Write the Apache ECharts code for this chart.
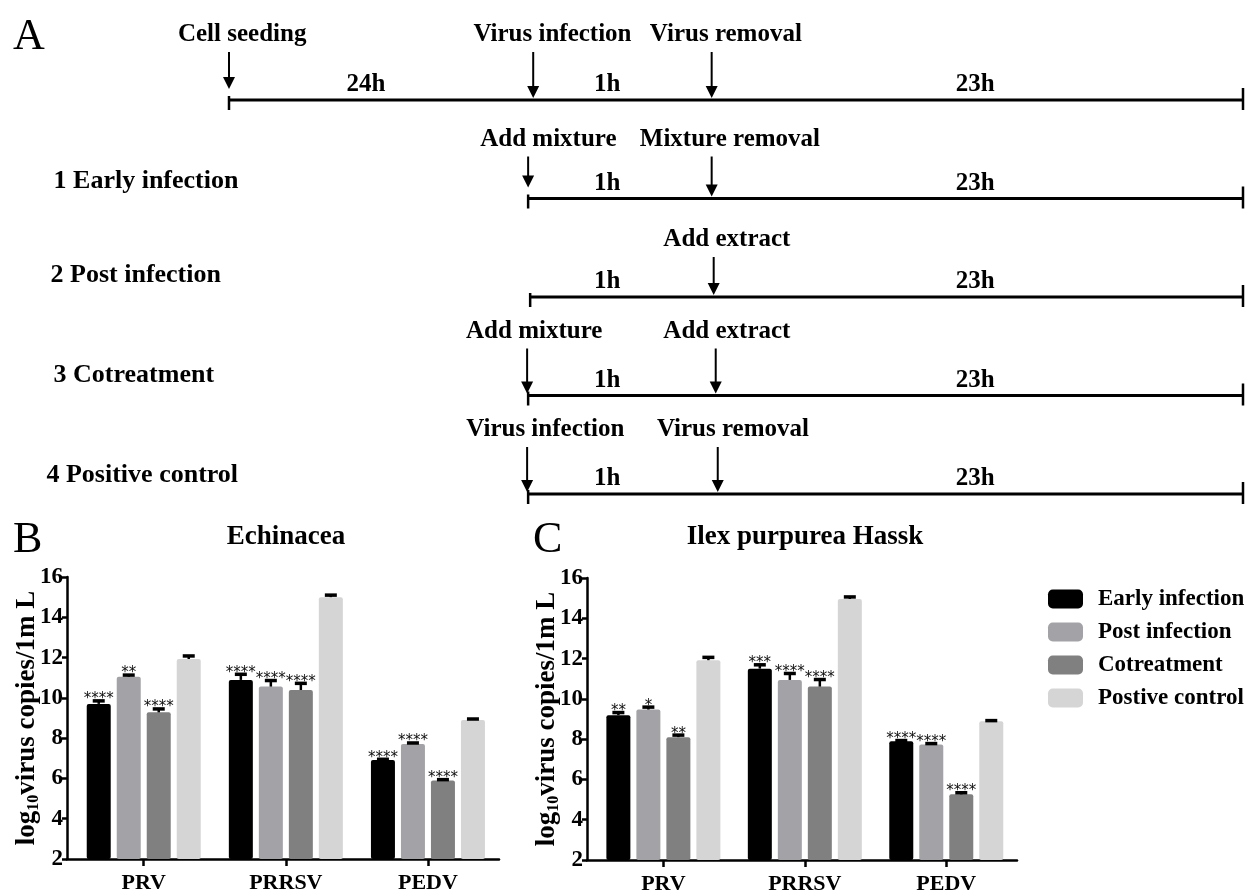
<!DOCTYPE html>
<html><head><meta charset="utf-8">
<script src="https://cdn.jsdelivr.net/npm/echarts@6/dist/echarts.min.js"></script>
<style>html,body{margin:0;padding:0;background:#fff}#c{width:1255px;height:891px}</style>
</head><body><div id="c"></div>
<script>
// ---------- DATA ----------
const categories = ['PRV', 'PRRSV', 'PEDV'];
const groupNames = ['Early infection', 'Post infection', 'Cotreatment', 'Postive control'];
const yMin = 2, yMax = 16, yStep = 2;

// Panel B: Echinacea (log10 virus copies/1mL)
const echEarly   = [9.70, 10.89, 6.92];
const echPost    = [11.05, 10.56, 7.71];
const echCot     = [9.28, 10.39, 5.90];
const echControl = [11.93, 15.00, 8.90];
const echEarlyErr   = [0.15, 0.28, 0.03];
const echPostErr    = [0.08, 0.30, 0.05];
const echCotErr     = [0.17, 0.33, 0.04];
const echControlErr = [0.15, 0.10, 0.05];
const echEarlyStars   = ['****', '****', '****'];
const echPostStars    = ['**', '****', '****'];
const echCotStars     = ['****', '****', '****'];
const echControlStars = ['', '', ''];

// Panel C: Ilex purpurea Hassk
const ilexEarly   = [9.19, 11.50, 7.90];
const ilexPost    = [9.47, 10.94, 7.74];
const ilexCot     = [8.10, 10.61, 5.26];
const ilexControl = [11.92, 14.96, 8.89];
const ilexEarlyErr   = [0.13, 0.19, 0.03];
const ilexPostErr    = [0.12, 0.32, 0.04];
const ilexCotErr     = [0.10, 0.35, 0.08];
const ilexControlErr = [0.14, 0.10, 0.03];
const ilexEarlyStars   = ['**', '***', '****'];
const ilexPostStars    = ['*', '****', '****'];
const ilexCotStars     = ['**', '****', '****'];
const ilexControlStars = ['', '', ''];

// Panel A: schematic timeline (schematic units 0..100)
const timelineRowNames = ['', '1 Early infection', '2 Post infection', '3 Cotreatment', '4 Positive control'];
const timelineStart = [0, 29.5, 29.7, 29.5, 29.5];
const timelineEnd   = [100, 100, 100, 100, 100];
const rowLabelPos = [0, -17.3, -17.6, -17.3, -18.0];
// [row, arrow position, label position, label]
const timelineEvents = [
  [0, 0, 1.3, 'Cell seeding'],
  [0, 30, 31.9, 'Virus infection'],
  [0, 47.6, 49.0, 'Virus removal'],
  [1, 29.5, 31.5, 'Add mixture'],
  [1, 47.6, 49.4, 'Mixture removal'],
  [2, 47.8, 49.1, 'Add extract'],
  [3, 29.4, 30.1, 'Add mixture'],
  [3, 48.0, 49.1, 'Add extract'],
  [4, 29.4, 31.2, 'Virus infection'],
  [4, 48.2, 49.7, 'Virus removal']
];
// [row, position, label]
const timelineDurations = [
  [0, 13.5, '24h'], [0, 37.3, '1h'], [0, 73.6, '23h'],
  [1, 37.3, '1h'], [1, 73.6, '23h'],
  [2, 37.3, '1h'], [2, 73.6, '23h'],
  [3, 37.3, '1h'], [3, 73.6, '23h'],
  [4, 37.3, '1h'], [4, 73.6, '23h']
];

// ---------- STYLE ----------
const SERIF = "'Liberation Serif', 'DejaVu Serif', serif";
const colors = ['#000000', '#a3a3a7', '#808080', '#d5d5d5'];
const BAR_W = 24, BAR_GAP = 6;
const rowLabelDy = [0, -17, -22, -20, -19];
const eventLabelDy = [-65, -59, -57, -64, -64];

const chart = echarts.init(document.getElementById('c'), null, {renderer: 'canvas'});

function barAxes(i) {
  const ticks = categories.map((c, k) => k);
  const x = {
    type: 'value', gridIndex: i, min: -0.54, max: 2.5,
    axisLine: {show: true, onZero: false, lineStyle: {color: '#000', width: 2.5}},
    axisTick: {show: true, customValues: ticks, length: 7, lineStyle: {color: '#000', width: 2.5}},
    axisLabel: {customValues: ticks, formatter: v => categories[Math.round(v)], color: '#000',
      fontFamily: SERIF, fontWeight: 'bold', fontSize: 22, margin: 13},
    splitLine: {show: false}
  };
  const y = {
    type: 'value', gridIndex: i, min: yMin, max: yMax, interval: yStep,
    axisLine: {show: true, onZero: false, lineStyle: {color: '#000', width: 2.5}},
    axisTick: {show: true, length: 5, lineStyle: {color: '#000', width: 2.5}},
    axisLabel: {color: '#000', fontFamily: SERIF, fontWeight: 'bold', fontSize: 23, margin: 4},
    splitLine: {show: false},
    name: 'log{sub|10}virus copies/1m L', nameLocation: 'middle', nameRotate: 90, nameGap: 25,
    nameMoveOverlap: false,
    nameTextStyle: {
      color: '#000', fontFamily: SERIF, fontWeight: 'bold', fontSize: 27, lineHeight: 30,
      rich: {sub: {fontFamily: SERIF, fontWeight: 'bold', fontSize: 16, lineHeight: 17, verticalAlign: 'bottom', color: '#000'}}
    }
  };
  return [x, y];
}

function barSeries(i, groups) {
  return groups.map((vals, g) => ({
    type: 'bar', name: groupNames[g], xAxisIndex: i, yAxisIndex: i,
    data: vals.map((v, c) => [c, v]), barWidth: BAR_W, barGap: (BAR_GAP / BAR_W * 100) + '%',
    itemStyle: {color: colors[g], borderRadius: 2},
    emphasis: {disabled: true}, z: 2
  }));
}

function errSeries(i, groups, errs, stars) {
  const data = [], lab = [];
  for (let g = 0; g < groups.length; g++) {
    for (let c = 0; c < categories.length; c++) {
      data.push([c, g, groups[g][c], groups[g][c] + errs[g][c]]);
      lab.push(stars[g][c]);
    }
  }
  return {
    type: 'custom', xAxisIndex: i, yAxisIndex: i, z: 5, silent: true,
    encode: {x: 0, y: [2, 3]}, data,
    renderItem(params, api) {
      const c = api.value(0), g = api.value(1);
      const base = api.coord([c, api.value(2)]);
      const top = api.coord([c, api.value(3)]);
      const x = base[0] + (g - 1.5) * (BAR_W + BAR_GAP);
      return {
        type: 'group', children: [
          {type: 'line', shape: {x1: x, y1: base[1], x2: x, y2: top[1]}, style: {stroke: '#000', lineWidth: 2.5}},
          {type: 'line', shape: {x1: x - 6, y1: top[1], x2: x + 6, y2: top[1]}, style: {stroke: '#000', lineWidth: 3.5}},
          {type: 'text', style: {x: x, y: top[1] + 6, text: lab[params.dataIndex], align: 'center', verticalAlign: 'bottom',
            fontFamily: 'DejaVu Sans', fontSize: 15, fill: '#111'}}
        ]
      };
    }
  };
}

const echGroups = [echEarly, echPost, echCot, echControl];
const echErrs = [echEarlyErr, echPostErr, echCotErr, echControlErr];
const echStars = [echEarlyStars, echPostStars, echCotStars, echControlStars];
const ilexGroups = [ilexEarly, ilexPost, ilexCot, ilexControl];
const ilexErrs = [ilexEarlyErr, ilexPostErr, ilexCotErr, ilexControlErr];
const ilexStars = [ilexEarlyStars, ilexPostStars, ilexCotStars, ilexControlStars];

const axB = barAxes(0), axC = barAxes(1);

// timeline series
const TL_FONT = {fontFamily: SERIF, fontWeight: 'bold', fill: '#000'};
const lineSeries = {
  type: 'custom', xAxisIndex: 2, yAxisIndex: 2, silent: true, clip: false,
  data: timelineRowNames.map((n, r) => [timelineStart[r], r, timelineEnd[r]]),
  renderItem(params, api) {
    const r = api.value(1);
    const p0 = api.coord([api.value(0), r]);
    const p1 = api.coord([api.value(2), r]);
    const lp = api.coord([rowLabelPos[r], r]);
    const ch = [
      {type: 'line', shape: {x1: p0[0], y1: p0[1], x2: p1[0], y2: p1[1]}, style: {stroke: '#000', lineWidth: 3}},
      {type: 'line', shape: {x1: p0[0], y1: p0[1] - 4, x2: p0[0], y2: p0[1] + 10}, style: {stroke: '#000', lineWidth: 2.5}},
      {type: 'line', shape: {x1: p1[0], y1: p1[1] - 12, x2: p1[0], y2: p1[1] + 10}, style: {stroke: '#000', lineWidth: 2.5}}
    ];
    if (timelineRowNames[r]) {
      ch.push({type: 'text', style: Object.assign({x: lp[0], y: lp[1] + rowLabelDy[r], text: timelineRowNames[r], align: 'left', verticalAlign: 'middle', fontSize: 26}, TL_FONT)});
    }
    return {type: 'group', children: ch};
  }
};
const arrowSeries = {
  type: 'custom', xAxisIndex: 2, yAxisIndex: 2, silent: true, clip: false,
  data: timelineEvents.map(e => [e[1], e[0], e[2]]),
  renderItem(params, api) {
    const r = api.value(1), pos = api.value(0);
    const p = api.coord([pos, r]);
    const lp = api.coord([api.value(2), r]);
    const isStart = Math.abs(pos - timelineStart[r]) < 0.01;
    const tipY = p[1] - (isStart ? 11 : 2);
    const x = p[0];
    const ly = p[1] + eventLabelDy[r];
    return {type: 'group', children: [
      {type: 'line', shape: {x1: x, y1: ly + 17, x2: x, y2: tipY - 8}, style: {stroke: '#000', lineWidth: 2}},
      {type: 'polygon', shape: {points: [[x - 6, tipY - 12], [x + 6, tipY - 12], [x, tipY]]}, style: {fill: '#000'}},
      {type: 'text', style: Object.assign({x: lp[0], y: ly, text: timelineEvents[params.dataIndex][3], align: 'center', verticalAlign: 'middle', fontSize: 25}, TL_FONT)}
    ]};
  }
};
const durSeries = {
  type: 'custom', xAxisIndex: 2, yAxisIndex: 2, silent: true, clip: false,
  data: timelineDurations.map(d => [d[1], d[0]]),
  renderItem(params, api) {
    const p = api.coord([api.value(0), api.value(1)]);
    return {type: 'text', style: Object.assign({x: p[0], y: p[1] - 15, text: timelineDurations[params.dataIndex][2], align: 'center', verticalAlign: 'middle', fontSize: 25}, TL_FONT)};
  }
};

const option = {
  backgroundColor: '#fff',
  animation: false,
  textStyle: {fontFamily: SERIF},
  title: [
    {text: 'A', left: 8, top: 10, textStyle: {fontFamily: SERIF, fontWeight: 'normal', fontSize: 44, color: '#000'}},
    {text: 'B', left: 8, top: 513, textStyle: {fontFamily: SERIF, fontWeight: 'normal', fontSize: 44, color: '#000'}},
    {text: 'C', left: 528, top: 513, textStyle: {fontFamily: SERIF, fontWeight: 'normal', fontSize: 44, color: '#000'}},
    {text: 'Echinacea', left: 281, top: 519, textAlign: 'center', textStyle: {fontFamily: SERIF, fontWeight: 'bold', fontSize: 27, color: '#000'}},
    {text: 'Ilex purpurea Hassk', left: 800, top: 519, textAlign: 'center', textStyle: {fontFamily: SERIF, fontWeight: 'bold', fontSize: 27, color: '#000'}}
  ],
  legend: {
    data: groupNames, orient: 'vertical', left: 1043, top: 582,
    itemWidth: 35, itemHeight: 19, itemGap: 9, icon: 'roundRect',
    textStyle: {fontFamily: SERIF, fontWeight: 'bold', fontSize: 23, color: '#000', lineHeight: 24, padding: [0, 0, 0, 10]},
    selectedMode: false
  },
  grid: [
    {left: 67, top: 577, width: 432, height: 282, outerBoundsMode: 'none'},
    {left: 587, top: 578, width: 430, height: 282, outerBoundsMode: 'none'},
    {left: 229, top: 100, width: 1014, height: 394, outerBoundsMode: 'none'}
  ],
  xAxis: [axB[0], axC[0], {type: 'value', gridIndex: 2, min: 0, max: 100, show: false}],
  yAxis: [axB[1], axC[1], {type: 'value', gridIndex: 2, min: 0, max: 4, inverse: true, show: false}],
  series: [
    ...barSeries(0, echGroups),
    ...barSeries(1, ilexGroups),
    errSeries(0, echGroups, echErrs, echStars),
    errSeries(1, ilexGroups, ilexErrs, ilexStars),
    lineSeries, arrowSeries, durSeries
  ]
};
chart.setOption(option);
</script>
</body></html>
